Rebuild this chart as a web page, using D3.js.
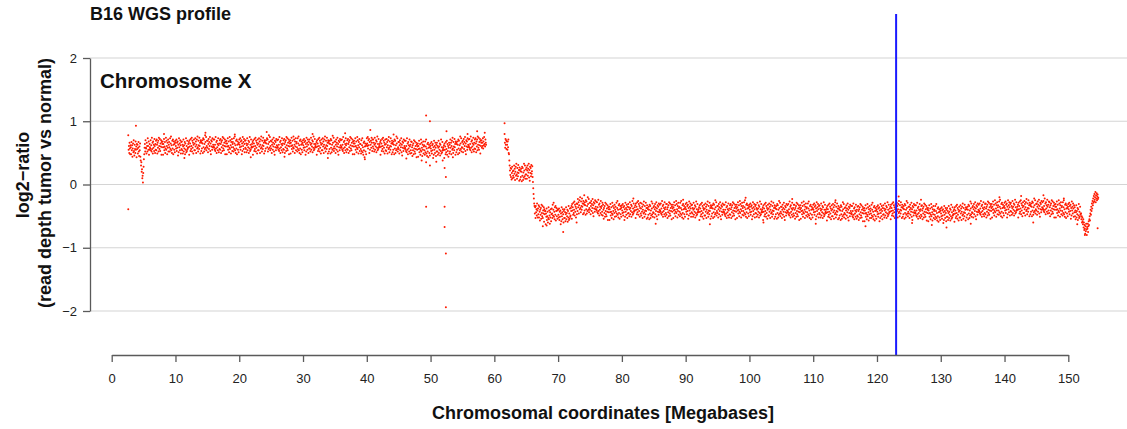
<!DOCTYPE html>
<html>
<head>
<meta charset="utf-8">
<script src="https://cdn.jsdelivr.net/npm/d3@7"></script>
<style>
  html, body { margin: 0; padding: 0; background: #fff; }
  svg { display: block; }
  text { font-family: "Liberation Sans", Arial, Helvetica, sans-serif; }
</style>
</head>
<body>
<svg id="chart" width="1127" height="429"></svg>
<script>
// ---------------- DATA ----------------
const chartTitle = "B16 WGS profile";
const panelLabel = "Chromosome X";
const xTitle = "Chromosomal coordinates [Megabases]";
const yTitleLines = ["log2\u2212ratio", "(read depth tumor vs normal)"];
const xTicks = [0, 10, 20, 30, 40, 50, 60, 70, 80, 90, 100, 110, 120, 130, 140, 150];
const yTicks = [-2, -1, 0, 1, 2];
const markerMb = 123.0;

// Bins of 0.05 Mb; log2-ratio values in hundredths (one row = 1 Mb)
const binMb = 0.05;
const segAStartMb = 2.6;   // first segment: 2.6 .. 58.7 Mb
const segAx100 = [
78,55,61,50,66,57,48,62,
59,48,67,54,62,44,57,65,51,70,53,46,63,56,50,68,55,60,43,64,
56,63,49,58,67,52,45,60,54,65,44,38,30,35,20,24,10,14,3,18,
28,40,48,58,64,52,70,58,57,49,66,61,52,73,61,55,68,47,55,64,
59,57,70,54,62,52,74,56,66,49,68,58,63,53,72,61,50,64,55,69,
54,71,63,49,66,58,69,52,74,61,56,72,53,65,60,70,47,67,59,64,
68,47,64,59,72,54,60,67,50,57,74,55,69,61,48,66,58,71,52,63,
67,59,52,73,56,65,76,54,62,50,69,57,71,48,63,68,55,64,51,66,
69,61,57,71,53,66,58,68,46,63,51,73,59,65,54,70,62,49,67,56,
68,54,63,49,60,71,52,62,57,67,48,65,55,73,51,61,53,69,56,58,
64,59,67,47,70,60,65,53,72,56,61,74,52,69,58,66,49,63,71,54,
65,54,73,60,68,50,63,71,57,76,59,52,69,62,56,74,61,66,49,70,
68,53,66,57,70,65,50,73,59,71,52,64,56,78,67,58,75,54,61,69,
58,69,51,64,72,56,67,61,75,53,65,48,70,60,68,55,73,59,63,71,
60,58,71,55,63,53,75,57,67,50,69,59,64,54,73,62,51,65,56,70,
55,72,64,50,67,59,70,53,75,62,57,73,54,66,61,71,48,68,60,65,
69,48,65,60,73,55,61,68,51,58,75,56,70,62,49,67,59,72,53,64,
67,59,52,73,56,65,76,54,62,50,69,57,71,48,63,68,55,64,51,66,
71,63,59,73,55,68,60,70,48,65,53,75,61,67,56,72,64,51,69,58,
70,56,65,51,62,73,54,64,59,69,50,67,57,75,53,63,55,71,58,60,
64,59,67,47,70,60,65,53,72,56,61,74,52,69,58,66,49,63,71,54,
65,54,73,60,68,50,63,71,57,76,59,52,69,62,56,74,61,66,49,70,
68,53,66,57,70,65,83,73,59,71,52,64,56,78,67,58,75,54,61,69,
57,68,50,63,71,55,66,60,74,52,64,47,69,59,67,54,72,58,62,70,
60,58,71,55,63,53,75,57,67,50,69,59,64,54,73,62,51,65,56,70,
55,72,64,50,67,59,70,53,75,62,57,73,54,66,61,71,48,68,60,65,
70,49,66,61,74,56,62,69,52,59,76,57,71,63,50,68,60,73,54,65,
67,59,52,73,56,65,76,54,62,50,69,57,71,48,63,68,55,64,51,66,
70,62,58,72,54,67,59,69,47,64,52,74,60,66,55,71,63,50,68,57,
71,57,66,52,63,74,55,65,60,70,51,68,58,76,54,64,56,72,59,61,
64,59,67,47,70,60,65,53,72,56,61,74,52,69,58,66,49,63,71,54,
65,54,73,60,68,50,63,71,57,76,59,52,69,62,56,74,61,66,49,70,
67,52,65,56,69,64,49,72,58,70,51,63,55,77,66,57,74,53,60,68,
57,68,50,63,71,55,66,60,74,52,64,47,69,59,67,54,72,58,62,70,
60,58,71,55,63,53,75,57,67,50,69,59,64,54,73,62,51,65,56,70,
55,72,64,50,67,59,70,53,75,62,57,73,54,66,61,71,48,68,60,65,
69,48,65,60,73,55,61,68,51,58,75,56,70,62,49,67,59,72,53,64,
64,56,49,70,53,62,73,51,59,47,66,54,68,43,60,65,52,61,48,63,
73,65,61,75,57,70,62,72,50,67,55,86,63,69,58,74,66,53,71,60,
71,57,66,52,63,74,55,65,60,70,51,68,58,76,54,64,56,72,59,61,
64,59,67,47,70,60,65,53,72,56,61,74,52,69,58,66,49,63,71,54,
64,53,72,59,67,49,62,70,56,75,58,51,68,61,55,73,60,65,48,69,
66,51,64,55,68,63,48,71,57,69,50,62,54,76,65,56,73,52,59,67,
56,67,49,62,70,54,65,59,73,51,63,46,68,58,66,53,71,57,61,69,
58,56,69,53,61,51,73,55,65,48,67,57,62,52,71,60,49,63,54,68,
50,67,59,45,62,54,65,48,70,57,52,68,49,61,56,66,43,63,55,60,
65,44,61,56,69,51,57,64,47,54,71,52,66,58,45,63,55,68,49,60,
62,54,47,68,51,60,71,49,57,45,64,52,66,43,58,63,50,59,46,61,
65,57,53,67,49,62,54,64,42,59,47,69,55,61,50,66,58,45,63,52,
66,52,61,47,58,69,50,60,55,65,46,63,53,71,49,59,51,67,54,56,
59,54,62,42,65,55,60,48,67,51,56,69,47,64,53,61,44,58,66,49,
63,52,71,58,66,48,61,69,55,74,57,50,67,60,54,72,59,64,47,68,
66,51,64,55,68,63,48,71,57,69,50,62,54,76,65,56,73,52,59,67,
58,69,51,64,72,56,67,61,75,53,65,48,70,60,68,55,73,59,63,71,
61,59,72,56,64,54,76,58,68,51,70,60,65,55,74,63,52,66,57,71,
56,73,65,51,68,60,71,54,76,63,58,74,55,67,62,72,49,69,61,66,
70,58,66,61,73,57,68,62,75,64,82,60,71,66,63
];

const segBStartMb = 61.6;  // second segment: 61.6 .. 154.7 Mb
const segBx100 = [
80,66,58,72,63,70,56,68,
63,55,68,59,71,50,48,38,30,22,15,26,12,25,8,18,28,10,21,14,
22,11,30,17,25,7,20,28,14,33,16,9,26,19,13,31,18,23,6,27,
23,8,21,12,25,20,5,28,14,26,7,19,11,33,22,13,30,9,16,24,
16,27,9,22,30,14,25,19,33,11,23,6,28,18,26,13,31,17,21,29,
12,4,-6,-15,-22,-30,-34,-46,-36,-53,-34,-44,-39,-49,-30,-41,-52,-38,-47,-33,
-52,-35,-43,-57,-40,-48,-37,-54,-32,-45,-50,-34,-53,-41,-46,-36,-59,-39,-47,-42,
-42,-63,-46,-51,-38,-56,-50,-43,-60,-53,-36,-55,-41,-49,-62,-44,-52,-39,-58,-47,
-38,-46,-53,-32,-49,-40,-29,-51,-43,-55,-36,-48,-34,-57,-42,-37,-50,-41,-54,-39,
-40,-48,-52,-38,-56,-43,-51,-41,-63,-46,-58,-36,-50,-44,-55,-39,-47,-60,-42,-53,
-39,-53,-44,-58,-47,-36,-55,-45,-50,-40,-59,-42,-52,-34,-56,-46,-54,-38,-51,-49,
-37,-42,-34,-54,-31,-41,-36,-48,-29,-45,-40,-27,-49,-32,-43,-35,-52,-38,-30,-47,
-31,-42,-23,-36,-28,-46,-33,-25,-39,-20,-37,-44,-27,-34,-40,-22,-35,-30,-47,-26,
-30,-45,-32,-41,-28,-33,-48,-25,-39,-27,-46,-34,-42,-20,-31,-40,-23,-44,-37,-29,
-40,-29,-47,-34,-26,-42,-31,-37,-23,-45,-33,-50,-28,-38,-30,-43,-25,-39,-35,-27,
-39,-41,-28,-44,-36,-46,-24,-42,-32,-49,-30,-40,-35,-45,-26,-37,-48,-34,-43,-29,
-49,-32,-40,-54,-37,-45,-34,-51,-29,-42,-47,-31,-50,-38,-43,-33,-56,-36,-44,-39,
-35,-56,-39,-44,-31,-49,-43,-36,-53,-46,-29,-48,-34,-42,-55,-37,-45,-32,-51,-40,
-35,-43,-50,-29,-46,-37,-26,-48,-40,-52,-33,-45,-31,-54,-39,-34,-47,-38,-51,-36,
-33,-41,-45,-31,-49,-36,-44,-34,-56,-39,-51,-29,-43,-37,-48,-32,-40,-53,-35,-46,
-31,-45,-36,-50,-39,-28,-47,-37,-42,-32,-51,-34,-44,-26,-48,-38,-46,-30,-43,-41,
-36,-41,-33,-53,-30,-40,-35,-47,-28,-44,-39,-26,-48,-31,-42,-34,-51,-37,-29,-46,
-38,-49,-30,-43,-35,-53,-40,-32,-46,-27,-44,-51,-34,-41,-47,-29,-42,-37,-54,-33,
-37,-52,-39,-48,-35,-40,-55,-32,-46,-34,-53,-41,-49,-27,-38,-47,-30,-51,-44,-36,
-45,-34,-52,-39,-31,-47,-36,-42,-28,-50,-38,-55,-33,-43,-35,-48,-30,-44,-40,-32,
-41,-43,-30,-46,-38,-48,-26,-44,-34,-51,-32,-42,-37,-47,-28,-39,-50,-36,-45,-31,
-48,-31,-39,-53,-36,-44,-33,-50,-28,-41,-46,-30,-49,-37,-42,-32,-55,-35,-43,-38,
-32,-53,-36,-41,-28,-46,-40,-33,-50,-43,-26,-45,-31,-39,-52,-34,-42,-29,-48,-37,
-35,-43,-50,-29,-46,-37,-26,-48,-40,-52,-33,-45,-31,-54,-39,-34,-47,-38,-51,-36,
-31,-39,-43,-29,-47,-34,-42,-32,-54,-37,-49,-27,-41,-35,-46,-30,-38,-51,-33,-44,
-32,-46,-37,-51,-40,-29,-48,-38,-43,-33,-52,-35,-45,-27,-49,-39,-47,-31,-44,-42,
-39,-44,-36,-56,-33,-43,-38,-50,-31,-47,-42,-29,-51,-34,-45,-37,-54,-40,-32,-49,
-38,-49,-30,-43,-35,-53,-40,-32,-46,-27,-44,-51,-34,-41,-47,-29,-42,-37,-54,-33,
-35,-50,-37,-46,-33,-38,-53,-30,-44,-32,-51,-39,-47,-25,-36,-45,-28,-49,-42,-34,
-45,-34,-52,-39,-31,-47,-36,-42,-28,-50,-38,-55,-33,-43,-35,-48,-30,-44,-40,-32,
-43,-45,-32,-48,-40,-50,-28,-46,-36,-53,-34,-44,-39,-49,-30,-41,-52,-38,-47,-33,
-48,-31,-39,-53,-36,-44,-33,-50,-28,-41,-46,-30,-49,-37,-42,-32,-55,-35,-43,-38,
-32,-53,-36,-41,-28,-46,-40,-33,-50,-43,-26,-45,-31,-39,-52,-34,-42,-29,-48,-37,
-34,-42,-49,-28,-45,-36,-25,-47,-39,-51,-32,-44,-30,-53,-38,-33,-46,-37,-50,-35,
-32,-40,-44,-30,-48,-35,-43,-33,-55,-38,-50,-28,-42,-36,-47,-31,-39,-52,-34,-45,
-32,-46,-37,-51,-40,-29,-48,-38,-43,-33,-52,-35,-45,-27,-49,-39,-47,-31,-44,-42,
-39,-44,-36,-56,-33,-43,-38,-50,-31,-47,-42,-29,-51,-34,-45,-37,-54,-40,-32,-49,
-38,-49,-30,-43,-35,-53,-40,-32,-46,-27,-44,-51,-34,-41,-47,-29,-42,-37,-54,-33,
-36,-51,-38,-47,-34,-39,-54,-31,-45,-33,-52,-40,-48,-26,-37,-46,-29,-50,-43,-35,
-46,-35,-53,-40,-32,-48,-37,-43,-29,-51,-39,-56,-34,-44,-36,-49,-31,-45,-41,-33,
-42,-44,-31,-47,-39,-49,-27,-45,-35,-52,-33,-43,-38,-48,-29,-40,-51,-37,-46,-32,
-49,-32,-40,-54,-37,-45,-34,-51,-29,-42,-47,-31,-50,-38,-43,-33,-56,-36,-44,-39,
-33,-54,-37,-42,-29,-47,-41,-34,-51,-44,-27,-46,-32,-40,-53,-35,-43,-30,-49,-38,
-36,-44,-51,-30,-47,-38,-27,-49,-41,-53,-34,-46,-32,-55,-40,-35,-48,-39,-52,-37,
-32,-40,-44,-30,-48,-35,-43,-33,-55,-38,-50,-28,-42,-36,-47,-31,-39,-52,-34,-45,
-33,-47,-38,-52,-41,-30,-49,-39,-44,-34,-53,-36,-46,-28,-50,-40,-48,-32,-45,-43,
-40,-45,-37,-57,-34,-44,-39,-51,-32,-48,-43,-30,-52,-35,-46,-38,-55,-41,-33,-50,
-39,-50,-31,-44,-36,-54,-41,-33,-47,-28,-45,-52,-35,-42,-48,-30,-43,-38,-55,-34,
-38,-53,-40,-49,-36,-41,-56,-33,-47,-35,-54,-42,-50,-28,-39,-48,-31,-52,-45,-37,
-47,-36,-54,-41,-33,-49,-38,-44,-30,-52,-40,-57,-35,-45,-37,-50,-32,-46,-42,-34,
-45,-47,-34,-50,-42,-52,-30,-48,-38,-55,-36,-46,-41,-51,-32,-43,-54,-40,-49,-35,
-51,-34,-42,-56,-39,-47,-36,-53,-31,-44,-49,-33,-52,-40,-45,-35,-58,-38,-46,-41,
-37,-58,-41,-46,-33,-51,-45,-38,-55,-48,-31,-50,-36,-44,-57,-39,-47,-34,-53,-42,
-38,-46,-53,-32,-49,-40,-29,-51,-43,-55,-36,-48,-34,-57,-42,-37,-50,-41,-54,-39,
-35,-43,-47,-33,-51,-38,-46,-36,-58,-41,-53,-31,-45,-39,-50,-34,-42,-55,-37,-48,
-33,-47,-38,-52,-41,-30,-49,-39,-44,-34,-53,-36,-46,-28,-50,-40,-48,-32,-45,-43,
-38,-43,-35,-55,-32,-42,-37,-49,-30,-46,-41,-28,-50,-33,-44,-36,-53,-39,-31,-48,
-37,-48,-29,-42,-34,-52,-39,-31,-45,-26,-43,-50,-33,-40,-46,-28,-41,-36,-53,-32,
-36,-51,-38,-47,-34,-39,-54,-31,-45,-33,-52,-40,-48,-26,-37,-46,-29,-50,-43,-35,
-46,-35,-53,-40,-32,-48,-37,-43,-29,-51,-39,-56,-34,-44,-36,-49,-31,-45,-41,-33,
-44,-46,-33,-49,-41,-51,-29,-47,-37,-54,-35,-45,-40,-50,-31,-42,-53,-39,-48,-34,
-50,-33,-41,-55,-38,-46,-35,-52,-30,-43,-48,-32,-51,-39,-44,-34,-57,-37,-45,-40,
-37,-58,-41,-46,-33,-51,-45,-38,-55,-48,-31,-50,-36,-44,-57,-39,-47,-34,-53,-42,
-40,-48,-55,-34,-51,-42,-31,-53,-45,-57,-38,-50,-36,-59,-44,-39,-52,-43,-56,-41,
-38,-46,-50,-36,-54,-41,-49,-39,-61,-44,-56,-34,-48,-42,-53,-37,-45,-58,-40,-51,
-37,-51,-42,-56,-45,-34,-53,-43,-48,-38,-57,-40,-50,-32,-54,-44,-52,-36,-49,-47,
-42,-47,-39,-59,-36,-46,-41,-53,-34,-50,-45,-32,-54,-37,-48,-40,-57,-43,-35,-52,
-41,-52,-33,-46,-38,-56,-43,-35,-49,-30,-47,-54,-37,-44,-50,-32,-45,-40,-57,-36,
-37,-52,-39,-48,-35,-40,-55,-32,-46,-34,-53,-41,-49,-27,-38,-47,-30,-51,-44,-36,
-45,-34,-52,-39,-31,-47,-36,-42,-28,-50,-38,-55,-33,-43,-35,-48,-30,-44,-40,-32,
-41,-43,-30,-46,-38,-48,-26,-44,-34,-51,-32,-42,-37,-47,-28,-39,-50,-36,-45,-31,
-47,-30,-38,-52,-35,-43,-32,-49,-27,-40,-45,-29,-48,-36,-41,-31,-54,-34,-42,-37,
-31,-52,-35,-40,-27,-45,-39,-32,-49,-42,-25,-44,-30,-38,-51,-33,-41,-28,-47,-36,
-33,-41,-48,-27,-44,-35,-24,-46,-38,-50,-31,-43,-29,-52,-37,-32,-45,-36,-49,-34,
-29,-37,-41,-27,-45,-32,-40,-30,-52,-35,-47,-25,-39,-33,-44,-28,-36,-49,-31,-42,
-29,-43,-34,-48,-37,-26,-45,-35,-40,-30,-49,-32,-42,-24,-46,-36,-44,-28,-41,-39,
-35,-40,-32,-52,-29,-39,-34,-46,-27,-43,-38,-25,-47,-30,-41,-33,-50,-36,-28,-45,
-34,-45,-26,-39,-31,-49,-36,-28,-42,-23,-40,-47,-30,-37,-43,-25,-38,-33,-50,-29,
-32,-47,-34,-43,-30,-35,-50,-27,-41,-29,-48,-36,-44,-22,-33,-42,-25,-46,-39,-31,
-41,-30,-48,-35,-27,-43,-32,-38,-24,-46,-34,-51,-29,-39,-31,-44,-26,-40,-36,-28,
-37,-39,-26,-42,-34,-44,-22,-40,-30,-47,-28,-38,-33,-43,-24,-35,-46,-32,-41,-27,
-45,-28,-36,-50,-33,-41,-30,-47,-25,-38,-43,-27,-46,-34,-39,-29,-52,-32,-40,-35,
-31,-52,-35,-40,-27,-45,-39,-32,-49,-42,-25,-44,-30,-38,-51,-33,-41,-28,-47,-36,
-34,-42,-49,-28,-45,-36,-25,-47,-39,-51,-32,-44,-30,-53,-38,-33,-46,-37,-50,-35,
-31,-39,-43,-29,-47,-34,-42,-32,-54,-37,-49,-27,-41,-35,-46,-30,-38,-51,-33,-44,
-36,-50,-41,-55,-44,-33,-52,-42,-47,-37,-56,-39,-49,-31,-53,-43,-51,-35,-48,-46,
-46,-55,-50,-60,-52,-58,-63,-55,-68,-60,-72,-64,-70,-78,-66,-74,-62,-71,-80,-67,
-70,-62,-75,-66,-58,-64,-55,-50,-57,-46,-40,-48,-35,-42,-30,-38,-26,-33,-22,-29,
-18,-27,-15,-24,-20,-12,-28,-17,-22,-14,-25,-19,-16,-23,-21
];

// isolated outlying bins (Mb, log2-ratio)
const outlierMb   = [2.6, 3.8, 49.3, 49.9, 49.3, 49.9, 49.3, 51.9, 52.2, 52.2, 52.4, 52.4, 52.4, 52.2, 52.5, 61.6, 70.8, 68.2, 152.6, 154.6,
  8.2, 14.7, 19.3, 31.5, 36.6, 44.2, 55.8, 57.3,
  11.4, 21.8, 27.1, 33.9, 39.7, 46.2, 48.6, 50.9, 53.5,
  74.1, 81.8, 89.6, 99.4, 106.7, 113.5, 123.4, 126.9, 139.2, 142.6, 146.1, 149.3,
  67.6, 72.9, 85.3, 93.8, 102.2, 110.4, 118.2, 125.5, 128.6, 130.9, 134.7, 144.5, 151.4];
const outlierLog2 = [-0.39, 0.93, 1.09, 1.0, 0.35, 0.3, -0.35, 0.38, -0.35, -0.67, -1.09, -1.94, 0.12, 0.26, 0.84, 0.97, -0.75, -0.65, -0.8, -0.69,
  0.80, 0.82, 0.79, 0.80, 0.81, 0.79, 0.80, 0.84,
  0.42, 0.43, 0.44, 0.42, 0.40, 0.41, 0.38, 0.36, 0.43,
  -0.17, -0.22, -0.24, -0.21, -0.23, -0.25, -0.19, -0.24, -0.20, -0.18, -0.17, -0.22,
  -0.66, -0.60, -0.62, -0.63, -0.60, -0.62, -0.66, -0.61, -0.64, -0.68, -0.62, -0.60, -0.63];

// ---------------- BUILD POINTS ----------------
const points = [];
segAx100.forEach((v, i) => points.push({ mb: segAStartMb + i * binMb, r: v / 100 }));
segBx100.forEach((v, i) => points.push({ mb: segBStartMb + i * binMb, r: v / 100 }));
outlierMb.forEach((m, i) => points.push({ mb: m, r: outlierLog2[i] }));

// ---------------- DRAW ----------------
const svg = d3.select("#chart");
svg.append("rect").attr("width", 1127).attr("height", 429).attr("fill", "#fff");

const x = d3.scaleLinear().domain([0, 150]).range([111.7, 1068.3]);
const y = d3.scaleLinear().domain([-2, 2]).range([311, 58]);
const axisX0 = 90;       // y-axis position
const axisY0 = 355;      // x-axis position

// grid
svg.append("g").selectAll("line").data(yTicks).join("line")
  .attr("x1", axisX0).attr("x2", 1127)
  .attr("y1", d => y(d)).attr("y2", d => y(d))
  .attr("stroke", "#d4d4d4").attr("stroke-width", 1.2);

// points
svg.append("g").selectAll("circle").data(points).join("circle")
  .attr("cx", d => x(d.mb)).attr("cy", d => y(d.r))
  .attr("r", 1.0).attr("fill", "#ff1a00");

// marker line
svg.append("line")
  .attr("x1", x(markerMb)).attr("x2", x(markerMb))
  .attr("y1", 14).attr("y2", axisY0)
  .attr("stroke", "#1a1aff").attr("stroke-width", 2);

// axes
const axisColor = "#5a5a5a";
const gx = svg.append("g").attr("transform", `translate(0,${axisY0})`)
  .call(d3.axisBottom(x).tickValues(xTicks).tickFormat(d3.format("d"))
    .tickSize(7).tickSizeOuter(0).tickPadding(12));
const gy = svg.append("g").attr("transform", `translate(${axisX0},0)`)
  .call(d3.axisLeft(y).tickValues(yTicks).tickFormat(d3.format("d"))
    .tickSize(7).tickSizeOuter(0).tickPadding(6));
[gx, gy].forEach(g => {
  g.select(".domain").attr("stroke", axisColor).attr("stroke-width", 1.3);
  g.selectAll(".tick line").attr("stroke", axisColor).attr("stroke-width", 1.3);
  g.selectAll(".tick text").attr("fill", "#222")
    .style("font-family", '"Liberation Sans", Arial, sans-serif').style("font-size", "13px");
});

// titles
svg.append("text").attr("x", 90).attr("y", 20)
  .attr("font-size", 18).attr("font-weight", "bold").attr("fill", "#111")
  .text(chartTitle);
svg.append("text").attr("x", 100).attr("y", 88)
  .attr("font-size", 20.5).attr("font-weight", "bold").attr("fill", "#111")
  .text(panelLabel);
svg.append("text").attr("x", 603).attr("y", 419).attr("text-anchor", "middle")
  .attr("font-size", 18).attr("font-weight", "bold").attr("fill", "#111")
  .text(xTitle);
const yLabelPos = [[29, 175], [51, 183]];
yTitleLines.forEach((t, i) => {
  svg.append("text")
    .attr("transform", `translate(${yLabelPos[i][0]},${yLabelPos[i][1]}) rotate(-90)`)
    .attr("text-anchor", "middle")
    .attr("font-size", 18).attr("font-weight", "bold").attr("fill", "#111")
    .text(t);
});
</script>
</body>
</html>
